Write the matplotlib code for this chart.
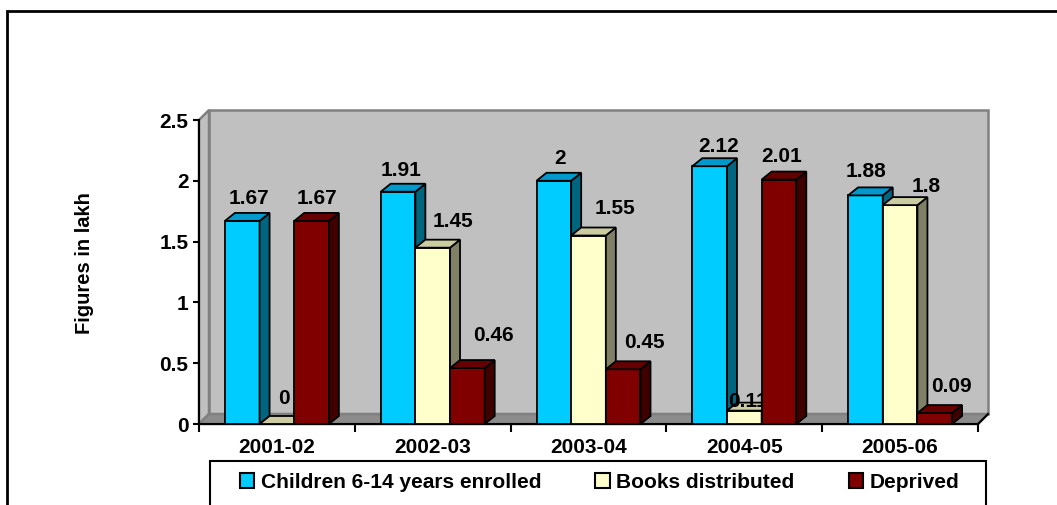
import matplotlib
matplotlib.use("Agg")
import matplotlib.pyplot as plt
from matplotlib.patches import Polygon, Rectangle, Patch

years = ["2001-02", "2002-03", "2003-04", "2004-05", "2005-06"]
enrolled = [1.67, 1.91, 2.00, 2.12, 1.88]
books = [0.00, 1.45, 1.55, 0.11, 1.80]
deprived = [1.67, 0.46, 0.45, 2.01, 0.09]
series_names = ["Children 6-14 years enrolled", "Books distributed", "Deprived"]
y_ticks = [0, 0.5, 1, 1.5, 2, 2.5]
y_tick_labels = ["0", "0.5", "1", "1.5", "2", "2.5"]

# front / top / side shades for the fake 3d bars
shades = [
    ("#00CCFF", "#0099CC", "#006680"),
    ("#FFFFCC", "#CCCCA3", "#808066"),
    ("#800000", "#660000", "#400000"),
]

# value label nudges in pixels (excel moved them around), per year then series
label_nudge = [
    [(6.5, 9), (7, 12), (5.5, 9)],
    [(3.5, 8), (20.5, 13), (26, 19)],
    [(6, 9), (26, 14), (21.5, 13)],
    [(9, 6), (4, -4), (3, 10)],
    [(1, 10), (26, 5), (17, 13)],
]

plt.rcParams["font.family"] = ["Liberation Sans", "DejaVu Sans"]
plt.rcParams["font.weight"] = "bold"

W, H = 1057, 505
fig = plt.figure(figsize=(W / 100, H / 100), dpi=100)
L, R, B, T = 199, 978, 424, 120   # front plane of the plot, pixels
ax = fig.add_axes([L / W, 1 - B / H, (R - L) / W, (B - T) / H])
ymax = y_ticks[-1]
ax.set_xlim(0, len(years))
ax.set_ylim(0, ymax)
ax.patch.set_visible(False)

ux = (R - L) / len(years)
uy = (B - T) / ymax
wdx, wdy = 10 / ux, 10 / uy      # wall depth
bdx, bdy = 10 / ux, 8 / uy       # bar depth
n = len(years)

# walls and floor
wall_kw = dict(clip_on=False, lw=1.8, zorder=0)
ax.add_patch(Polygon([(wdx, wdy), (n + wdx, wdy), (n + wdx, ymax + wdy), (wdx, ymax + wdy)],
                     fc="#C0C0C0", ec="#808080", **wall_kw))
ax.add_patch(Polygon([(0, 0), (0, ymax), (wdx, ymax + wdy), (wdx, wdy)],
                     fc="#C0C0C0", ec="#808080", **wall_kw))
ax.add_patch(Polygon([(0, 0), (n, 0), (n + wdx, wdy), (wdx, wdy)],
                     fc="#8C8C8C", ec="#808080", **wall_kw))
ax.plot([n, n + wdx], [0, wdy], color="k", lw=1.5, clip_on=False, zorder=1)

# bars
bw = 0.2225
z = 2
for i in range(n):
    for j, vals in enumerate([enrolled, books, deprived]):
        v = vals[i]
        front, top, side = shades[j]
        x0 = i + 0.5 - 1.5 * bw + j * bw
        x1 = x0 + bw
        ax.bar(x0, v, width=bw, align="edge", color=front, edgecolor="k",
               lw=1.3, zorder=z)
        ax.add_patch(Polygon([(x1, 0), (x1 + bdx, bdy), (x1 + bdx, v + bdy), (x1, v)],
                             fc=side, ec="k", lw=1.3, zorder=z, clip_on=False))
        ax.add_patch(Polygon([(x0, v), (x0 + bdx, v + bdy), (x1 + bdx, v + bdy), (x1, v)],
                             fc=top, ec="k", lw=1.3, zorder=z, clip_on=False))
        ax.annotate(f"{v:g}", (x0 + bw / 2, v + bdy), xytext=label_nudge[i][j],
                    textcoords="offset pixels", ha="center", va="baseline",
                    fontsize=15, fontweight="bold", zorder=z + 1)
        z += 2

# axes
for s in ["top", "right"]:
    ax.spines[s].set_visible(False)
for s in ["left", "bottom"]:
    ax.spines[s].set_linewidth(1.5)
    ax.spines[s].set_zorder(1)
ax.set_yticks(y_ticks, y_tick_labels)
ax.tick_params(axis="y", direction="out", length=4.5, width=1.5, pad=3, labelsize=15)
ax.set_xticks(range(n + 1), [""] * (n + 1))
ax.tick_params(axis="x", which="major", direction="out", length=5.8, width=1.5)
ax.set_xticks([i + 0.5 for i in range(n)], years, minor=True)
ax.tick_params(axis="x", which="minor", length=0, pad=10, labelsize=15)

fig.text(85 / W, 1 - 263 / H, "Figures in lakh", rotation=90, ha="center",
         va="center", fontsize=14.5, fontweight="bold")

# legend
handles = [Patch(fc=s[0], ec="k", lw=1.5) for s in shades]
fig.legend(handles, series_names, loc="center", bbox_to_anchor=(599.5 / W, 1 - 482 / H),
           ncol=3, frameon=False, fontsize=15, handlelength=0.7, handleheight=0.7,
           handletextpad=0.3, columnspacing=2.6)
fig.add_artist(Rectangle((210 / W, -0.2), (986 - 210) / W, 0.2 + 1 - 461 / H,
                         transform=fig.transFigure, fill=False, ec="k", lw=1.5))
# outer chart border (runs off the right and bottom edges)
fig.add_artist(Rectangle((7 / W, -0.2), 1.2, 1.2 - 11 / H,
                         transform=fig.transFigure, fill=False, ec="k", lw=2))

fig.savefig("out.png", dpi=100)
